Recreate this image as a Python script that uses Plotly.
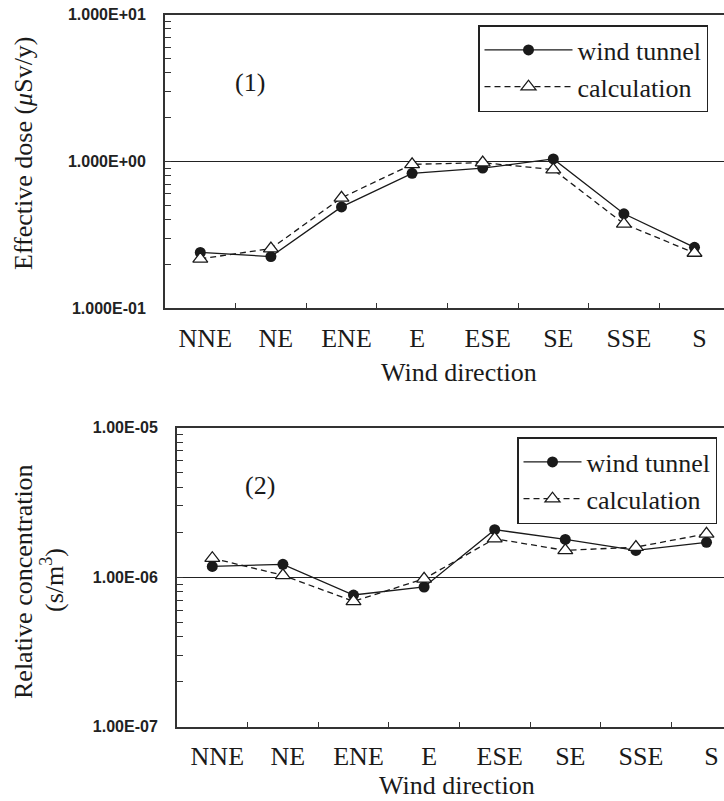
import plotly.graph_objects as go

# ---------------- data ----------------
directions = ["NNE", "NE", "ENE", "E", "ESE", "SE", "SSE", "S"]

dose_wind_tunnel = [0.24, 0.225, 0.49, 0.83, 0.90, 1.04, 0.44, 0.26]
dose_calculation = [0.217, 0.255, 0.565, 0.955, 0.98, 0.88, 0.376, 0.238]

conc_wind_tunnel = [1.18e-6, 1.22e-6, 0.76e-6, 0.86e-6, 2.08e-6, 1.79e-6, 1.51e-6, 1.71e-6]
conc_calculation = [1.34e-6, 1.03e-6, 0.69e-6, 0.975e-6, 1.81e-6, 1.51e-6, 1.59e-6, 1.95e-6]

dose_tickvals = [0.1, 1, 10]
dose_ticktext = ["1.000E-01", "1.000E+00", "1.000E+01"]
conc_tickvals = [1e-7, 1e-6, 1e-5]
conc_ticktext = ["1.00E-07", "1.00E-06", "1.00E-05"]
minor_mult = [2, 3, 4, 5, 6, 7, 8, 9]

W, H = 724, 801
SERIF = "Times New Roman, Liberation Serif, serif"
SANS = "Liberation Sans"
INK = "#1a1a1a"


def px_x(x):
    return x / W


def px_y(y):
    return 1 - y / H


fig = go.Figure()

# top panel traces
fig.add_trace(go.Scatter(x=directions, y=dose_wind_tunnel, name="wind tunnel",
                         mode="lines+markers", xaxis="x", yaxis="y", legend="legend",
                         line=dict(color=INK, width=1.3),
                         marker=dict(symbol="circle", size=11, color=INK)))
fig.add_trace(go.Scatter(x=directions, y=dose_calculation, name="calculation",
                         mode="lines+markers", xaxis="x", yaxis="y", legend="legend",
                         line=dict(color=INK, width=1.3, dash="6px,4px"),
                         marker=dict(symbol="triangle-up", size=13, color="white",
                                     line=dict(color=INK, width=1.3))))
# bottom panel traces
fig.add_trace(go.Scatter(x=directions, y=conc_wind_tunnel, name="wind tunnel",
                         mode="lines+markers", xaxis="x2", yaxis="y2", legend="legend2",
                         line=dict(color=INK, width=1.3),
                         marker=dict(symbol="circle", size=11, color=INK)))
fig.add_trace(go.Scatter(x=directions, y=conc_calculation, name="calculation",
                         mode="lines+markers", xaxis="x2", yaxis="y2", legend="legend2",
                         line=dict(color=INK, width=1.3, dash="6px,4px"),
                         marker=dict(symbol="triangle-up", size=13, color="white",
                                     line=dict(color=INK, width=1.3))))


def xaxis_cfg(domain, right_edge, anchor):
    return dict(domain=domain, anchor=anchor, type="category",
                range=[-0.5, right_edge], tickson="boundaries",
                ticks="inside", ticklen=5, tickwidth=1.3, tickcolor="#333",
                showline=True, linecolor="#333", linewidth=2, mirror=True,
                showgrid=False, zeroline=False,
                tickfont=dict(family=SERIF, size=26, color=INK),
                ticklabelstandoff=5, ticklabelshift=5)


def yaxis_cfg(domain, rng, tickvals, ticktext, anchor):
    minors = [m * v for v in tickvals[:-1] for m in minor_mult]
    return dict(domain=domain, anchor=anchor, type="log", range=rng,
                tickmode="array", tickvals=tickvals, ticktext=ticktext,
                ticks="inside", ticklen=6, tickwidth=1.3, tickcolor="#333",
                minor=dict(tickmode="array", tickvals=minors, ticks="inside",
                           ticklen=6, tickwidth=1.3, tickcolor="#333", showgrid=False),
                showline=True, linecolor="#333", linewidth=2, mirror=False,
                showgrid=True, gridcolor="#222", gridwidth=1.3, zeroline=False,
                tickfont=dict(family=SANS, size=16, color="#222", weight="bold"),
                ticklabelstandoff=14)


def legend_cfg(x, y, itemwidth):
    return dict(x=px_x(x), y=px_y(y), xanchor="left", yanchor="top",
                bgcolor="white", bordercolor="#222", borderwidth=1.5,
                font=dict(family=SERIF, size=26, color=INK),
                itemwidth=itemwidth, tracegroupgap=0)


def label(text, x, y, angle=0):
    return dict(text=text, x=px_x(x), y=px_y(y), xref="paper", yref="paper",
                xanchor="center", yanchor="middle", showarrow=False, textangle=angle,
                font=dict(family=SERIF, size=26, color=INK))


top_dom_y = [px_y(308.3), px_y(14.5)]
bot_dom_y = [px_y(726.7), px_y(427.7)]

fig.update_layout(
    width=W, height=H,
    margin=dict(l=0, r=0, t=0, b=0, autoexpand=False),
    paper_bgcolor="white", plot_bgcolor="white",
    font=dict(family=SERIF, size=24, color=INK),
    showlegend=True,
    xaxis=xaxis_cfg([px_x(165), 1], -0.5 + (W - 165) / 70.6, "y"),
    yaxis=yaxis_cfg(top_dom_y, [-1, 1], dose_tickvals, dose_ticktext, "x"),
    xaxis2=xaxis_cfg([px_x(177), 1], -0.5 + (W - 177) / 70.6, "y2"),
    yaxis2=yaxis_cfg(bot_dom_y, [-7, -5], conc_tickvals, conc_ticktext, "x2"),
    legend=legend_cfg(478, 25, 88),
    legend2=legend_cfg(517, 437, 58),
    annotations=[
        label("(1)", 250, 82),
        label("(2)", 260, 485),
        label("Wind direction", 459, 372),
        label("Wind direction", 457, 785),
        label("Effective dose (<i>μ</i>Sv/y)", 23, 153, -90),
        label("Relative concentration", 23, 582, -90),
        label("(s/m<sup>3</sup>)", 52, 580, -90),
    ],
)

fig.write_html("out.html", config={"displayModeBar": False})

# remove default page margin so the figure sits at the window origin
with open("out.html", "r", encoding="utf-8") as f:
    html = f.read()
html = html.replace("<head>", "<head><style>body{margin:0;padding:0;}</style>", 1)
with open("out.html", "w", encoding="utf-8") as f:
    f.write(html)
